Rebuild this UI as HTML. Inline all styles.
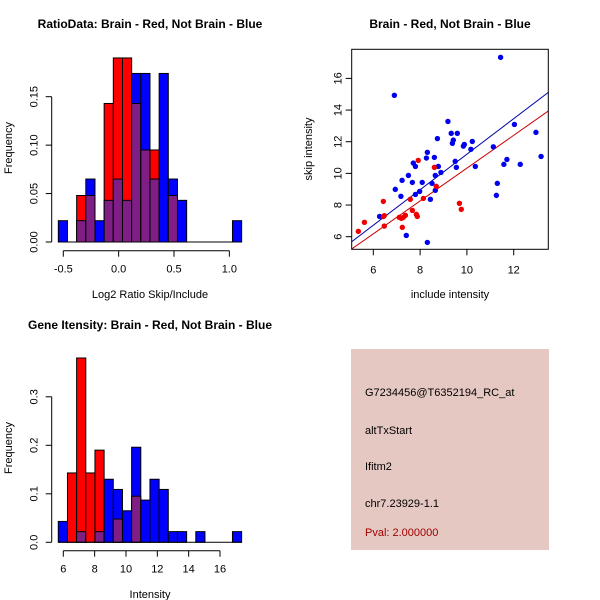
<!DOCTYPE html>
<html><head><meta charset="utf-8"><style>
body{margin:0;background:#fff}
svg{display:block;font-family:"Liberation Sans",sans-serif}
</style></head><body>
<svg id="c" width="600" height="600" xmlns="http://www.w3.org/2000/svg">
<rect width="600" height="600" fill="#fff"/>
<g id="h1"></g>
<g id="h2"></g>
<g id="sc"></g>
<g>
<rect x="351" y="349" width="198" height="201" fill="#e6c8c2"/>
<text x="365" y="396" font-size="11" fill="#000">G7234456@T6352194_RC_at</text>
<text x="365" y="434" font-size="11" fill="#000">altTxStart</text>
<text x="365" y="470" font-size="11" fill="#000">Ifitm2</text>
<text x="365" y="507" font-size="11" fill="#000">chr7.23929-1.1</text>
<text x="365" y="536" font-size="11" fill="#a00000">Pval: 2.000000</text>
</g>
</svg>
<script>
// Ratio histogram data (20 bins)
const ratioBinStart = -0.545;
const ratioBinWidth = 0.0828;
const ratioBlue = [0.022,0,0.022,0.065,0.022,0.043,0.065,0.043,0.174,0.174,0.065,0.174,0.065,0.043,0,0,0,0,0,0.022];
const ratioRed  = [0,0,0.048,0.048,0,0.143,0.19,0.19,0.143,0.095,0.095,0,0.048,0,0,0,0,0,0,0];
const ratioXTicks = [-0.5,0,0.5,1.0];
const ratioXLabels = ["-0.5","0.0","0.5","1.0"];
const ratioYTicks = [0,0.05,0.10,0.15];
const ratioYLabels = ["0.00","0.05","0.10","0.15"];
// Intensity histogram
const intBinStart = 5.68;
const intBinWidth = 0.585;
const intBlue = [0.043,0,0.022,0,0.022,0.13,0.109,0.065,0.196,0.087,0.13,0.109,0.022,0.022,0,0.022,0,0,0,0.022];
const intRed  = [0,0.143,0.38,0.143,0.19,0,0.048,0,0.095,0,0,0,0,0,0,0,0,0,0,0];
const intXTicks = [6,8,10,12,14,16];
const intYTicks = [0,0.1,0.2,0.3];
const intYLabels = ["0.0","0.1","0.2","0.3"];
// Scatter
const blueX = [11.44,6.9,9.19,9.33,9.59,9.42,9.38,8.74,9.85,9.89,10.23,10.17,11.13,12.03,12.95,13.17,11.71,11.58,12.28,10.36,9.5,9.55,8.78,8.89,8.65,8.31,8.27,8.61,7.71,7.8,7.5,7.23,7.67,8.09,8.51,6.94,7.98,7.8,8.65,7.18,8.44,6.27,7.41,8.31,11.26,11.3];
const blueY = [17.33,14.93,13.28,12.53,12.53,12.1,11.9,12.2,11.72,11.83,12.02,11.52,11.68,13.09,12.59,11.07,10.88,10.57,10.57,10.44,10.76,10.38,10.44,10.06,9.87,11.33,10.97,11.01,10.65,10.44,9.87,9.56,9.43,9.43,9.37,8.99,8.86,8.67,8.93,8.55,8.36,7.28,6.08,5.64,8.61,9.37];
const redX = [5.36,5.62,6.43,6.47,6.43,6.47,7.92,8.61,8.69,7.58,8.14,7.67,7.84,7.88,7.11,7.2,7.28,7.37,7.24,9.68,9.76];
const redY = [6.34,6.91,8.23,7.33,7.27,6.67,10.82,10.38,9.18,8.36,8.42,7.66,7.41,7.28,7.22,7.16,7.22,7.35,6.59,8.11,7.73];
const blueFit = [-0.01,1.122];
const redFit = [-0.04,1.037];
const scXTicks = [6,8,10,12];
const scYTicks = [6,8,10,12,14,16];

const NS="http://www.w3.org/2000/svg";
function mk(p,t,a){const e=document.createElementNS(NS,t);for(const k in a)e.setAttribute(k,a[k]);p.appendChild(e);return e;}
const PURPLE="#7f1f86";

function hist(gid,start,w,blue,red,xs,xt,xl,yt,yl,x2px,y2px,xAxisY,yAxisX,title,titleY,xlab,xlabY,ylabCy){
  const g=document.getElementById(gid);
  const base=y2px(0);
  for(let i=0;i<blue.length;i++){
    const x0=x2px(start+i*w),x1=x2px(start+(i+1)*w);
    const b=blue[i],r=red[i];
    const hi=Math.max(b,r),lo=Math.min(b,r);
    if(hi>0){
      const e=mk(g,'rect',{x:x0,y:y2px(hi),width:x1-x0,height:base-y2px(hi),fill:b>=r?'#0000ff':'#ff0000',stroke:'#000','stroke-width':1});
      
      
    }
    if(lo>0){
      const e=mk(g,'rect',{x:x0,y:y2px(lo),width:x1-x0,height:base-y2px(lo),fill:PURPLE,stroke:'#000','stroke-width':1});
      
      
    }
  }
  mk(g,'line',{x1:x2px(start),x2:x2px(start+blue.length*w),y1:base,y2:base,stroke:'#000'});
  // x axis
  mk(g,'line',{x1:x2px(xt[0]),x2:x2px(xt[xt.length-1]),y1:xAxisY,y2:xAxisY,stroke:'#000'});
  xt.forEach((v,i)=>{
    mk(g,'line',{x1:x2px(v),x2:x2px(v),y1:xAxisY,y2:xAxisY+6,stroke:'#000'});
    const t=mk(g,'text',{x:x2px(v),y:xAxisY+22,'font-size':11,'text-anchor':'middle'});t.textContent=xl[i];
    
    
  });
  mk(g,'line',{x1:yAxisX,x2:yAxisX,y1:y2px(yt[0]),y2:y2px(yt[yt.length-1]),stroke:'#000'});
  yt.forEach((v,i)=>{
    mk(g,'line',{x1:yAxisX,x2:yAxisX-6,y1:y2px(v),y2:y2px(v),stroke:'#000'});
    const t=mk(g,'text',{x:0,y:0,'font-size':11,'text-anchor':'middle',transform:`translate(${yAxisX-14},${y2px(v)}) rotate(-90)`});t.textContent=yl[i];
    
    
  });
  const tt=mk(g,'text',{x:150,y:titleY,'font-size':12,'font-weight':'bold','text-anchor':'middle'});tt.textContent=title;
  
  
  const xa=mk(g,'text',{x:150,y:xlabY,'font-size':11,'text-anchor':'middle'});xa.textContent=xlab;
  
  
  const ya=mk(g,'text',{x:0,y:0,'font-size':11,'text-anchor':'middle',transform:`translate(12,${ylabCy}) rotate(-90)`});ya.textContent='Frequency';
  
  
}
hist('h1',ratioBinStart,ratioBinWidth,ratioBlue,ratioRed,null,ratioXTicks,ratioXLabels,ratioYTicks,ratioYLabels,
  v=>63.3+(v+0.5)*110.7, v=>242-v*968.7, 250.7,51.7,'RatioData: Brain - Red, Not Brain - Blue',28,'Log2 Ratio Skip/Include',298,148);
hist('h2',intBinStart,intBinWidth,intBlue,intRed,null,intXTicks,intXTicks.map(String),intYTicks,intYLabels,
  v=>63.3+(v-6)*15.67, v=>542.3-v*485, 550.7,51.7,'Gene Itensity: Brain - Red, Not Brain - Blue',329,'Intensity',598,448);

// scatter
(function(){
  const g=document.getElementById('sc');
  const X=v=>373.3+(v-6)*23.4, Y=v=>236.7-(v-6)*15.83;
  const L=351.7,R=548.3,T=49.3,B=249.3;
  const clip=mk(g,'clipPath',{id:'scclip'});mk(clip,'rect',{x:L,y:T,width:R-L,height:B-T});
  const lines=mk(g,'g',{'clip-path':'url(#scclip)'});
  [[blueFit,'#0000aa','fit-line-blue'],[redFit,'#cc0000','fit-line-red']].forEach(([f,c,n])=>{
    const e=mk(lines,'line',{x1:X(4),y1:Y(f[0]+f[1]*4),x2:X(15),y2:Y(f[0]+f[1]*15),stroke:c,'stroke-width':1});
    
    
  });
  blueX.forEach((x,i)=>{const e=mk(g,'circle',{cx:X(x),cy:Y(blueY[i]),r:2.7,fill:'#0000ee'});
    
    });
  redX.forEach((x,i)=>{const e=mk(g,'circle',{cx:X(x),cy:Y(redY[i]),r:2.7,fill:'#ee0000'});
    
    });
  mk(g,'rect',{x:L,y:T,width:R-L,height:B-T,fill:'none',stroke:'#000'});
  scXTicks.forEach(v=>{mk(g,'line',{x1:X(v),x2:X(v),y1:B,y2:B+6,stroke:'#000'});
    const t=mk(g,'text',{x:X(v),y:B+24,'font-size':11,'text-anchor':'middle'});t.textContent=v;
    
    });
  scYTicks.forEach(v=>{mk(g,'line',{x1:L,x2:L-6,y1:Y(v),y2:Y(v),stroke:'#000'});
    const t=mk(g,'text',{x:0,y:0,'font-size':11,'text-anchor':'middle',transform:`translate(${L-10},${Y(v)}) rotate(-90)`});t.textContent=v;
    
    });
  const tt=mk(g,'text',{x:450,y:28,'font-size':12,'font-weight':'bold','text-anchor':'middle'});tt.textContent='Brain - Red, Not Brain - Blue';
  
  
  const xa=mk(g,'text',{x:450,y:298,'font-size':11,'text-anchor':'middle'});xa.textContent='include intensity';
  
  
  const ya=mk(g,'text',{x:0,y:0,'font-size':11,'text-anchor':'middle',transform:'translate(312,149) rotate(-90)'});ya.textContent='skip intensity';
  
  
})();
</script>
</body></html>
